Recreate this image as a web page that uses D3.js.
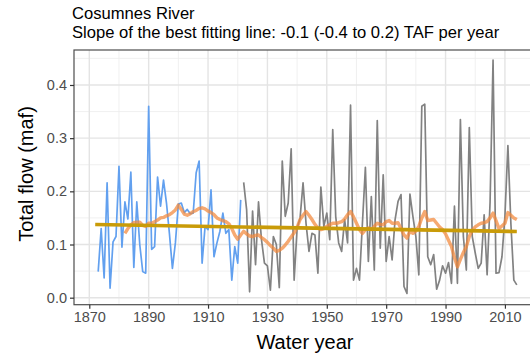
<!DOCTYPE html>
<html>
<head>
<meta charset="utf-8">
<script src="https://cdn.jsdelivr.net/npm/d3@7/dist/d3.min.js"></script>
<style>
  html, body { margin: 0; padding: 0; background: #fff; }
  svg { display: block; font-family: "Liberation Sans", Arial, sans-serif; }
</style>
</head>
<body>
<svg id="chart" width="530" height="355"></svg>
<script>
// Annual total flow (maf), Cosumnes River
const earlyYears = d3.range(1873, 1922);
const earlyFlow = [
  0.049, 0.130, 0.037, 0.216, 0.018, 0.105, 0.115, 0.247, 0.095, 0.180,
  0.148, 0.236, 0.057, 0.180, 0.100, 0.049, 0.046, 0.360, 0.091, 0.096,
  0.227, 0.172, 0.221, 0.178, 0.120, 0.055, 0.103, 0.176, 0.178, 0.160,
  0.166, 0.158, 0.159, 0.235, 0.257, 0.065, 0.134, 0.128, 0.203, 0.077,
  0.103, 0.125, 0.159, 0.121, 0.128, 0.033, 0.096, 0.065, 0.184
];
const gaugedYears = d3.range(1922, 2015);
const gaugedFlow = [
  0.217, 0.165, 0.011, 0.163, 0.062, 0.180, 0.109, 0.065, 0.060, 0.014,
  0.115, 0.100, 0.019, 0.257, 0.153, 0.178, 0.280, 0.033, 0.130, 0.150,
  0.216, 0.140, 0.087, 0.121, 0.118, 0.046, 0.208, 0.134, 0.159, 0.109,
  0.316, 0.153, 0.103, 0.087, 0.147, 0.103, 0.362, 0.033, 0.055, 0.033,
  0.140, 0.245, 0.068, 0.190, 0.052, 0.333, 0.093, 0.231, 0.068, 0.115,
  0.071, 0.147, 0.181, 0.194, 0.021, 0.008, 0.195, 0.153, 0.115, 0.043,
  0.360, 0.364, 0.077, 0.062, 0.081, 0.016, 0.033, 0.060, 0.046, 0.066,
  0.027, 0.172, 0.027, 0.335, 0.115, 0.052, 0.320, 0.115, 0.084, 0.055,
  0.065, 0.156, 0.043, 0.180, 0.447, 0.046, 0.047, 0.077, 0.153, 0.286,
  0.140, 0.033, 0.024
];
// Ten-year running mean
const meanYears = d3.range(1882, 2015);
const runningMean = [
  0.121, 0.130, 0.137, 0.141, 0.142, 0.142, 0.136, 0.134, 0.140, 0.140,
  0.143, 0.146, 0.150, 0.151, 0.154, 0.156, 0.160, 0.165, 0.174, 0.166,
  0.157, 0.155, 0.158, 0.162, 0.164, 0.168, 0.169, 0.167, 0.163, 0.160,
  0.156, 0.150, 0.147, 0.145, 0.143, 0.139, 0.130, 0.118, 0.110, 0.118,
  0.125, 0.120, 0.116, 0.115, 0.117, 0.118, 0.113, 0.109, 0.104, 0.098,
  0.093, 0.087, 0.089, 0.093, 0.099, 0.106, 0.114, 0.122, 0.132, 0.147,
  0.155, 0.162, 0.155, 0.147, 0.138, 0.131, 0.128, 0.130, 0.134, 0.137,
  0.140, 0.140, 0.141, 0.143, 0.148, 0.156, 0.162, 0.152, 0.140, 0.128,
  0.121, 0.128, 0.131, 0.128, 0.134, 0.140, 0.138, 0.137, 0.143, 0.145,
  0.140, 0.140, 0.141, 0.130, 0.118, 0.112, 0.125, 0.121, 0.125, 0.134,
  0.150, 0.162, 0.145, 0.146, 0.147, 0.140, 0.133, 0.128, 0.120, 0.108,
  0.096, 0.075, 0.058, 0.072, 0.085, 0.096, 0.115, 0.127, 0.133, 0.137,
  0.140, 0.141, 0.143, 0.150, 0.159, 0.145, 0.130, 0.135, 0.140, 0.160,
  0.155, 0.150, 0.147
];
// Best fitting line end points
const trendYears = [1872, 2014];
const trendFlow = [0.1375, 0.1245];

const xTicks = [1870, 1890, 1910, 1930, 1950, 1970, 1990, 2010];
const xMinor = [1880, 1900, 1920, 1940, 1960, 1980, 2000, 2020];
const yTicks = [0.0, 0.1, 0.2, 0.3, 0.4];
const yMinor = [0.05, 0.15, 0.25, 0.35, 0.45];

const titleLines = ["Cosumnes River", "Slope of the best fitting line: -0.1 (-0.4 to 0.2) TAF per year"];
const xTitle = "Water year";
const yTitle = "Total flow (maf)";

const svg = d3.select("#chart");
const panel = { left: 74, right: 541, top: 50, bottom: 304.7 };

const x = d3.scaleLinear().domain([1864.85, 2022.15]).range([panel.left, panel.right]);
const y = d3.scaleLinear().domain([-0.0132, 0.4658]).range([panel.bottom, panel.top]);

svg.append("defs").append("clipPath").attr("id", "panel-clip")
  .append("rect")
  .attr("x", panel.left).attr("y", panel.top)
  .attr("width", panel.right - panel.left).attr("height", panel.bottom - panel.top);

// Grid
const grid = svg.append("g").attr("clip-path", "url(#panel-clip)");
grid.selectAll(".xminor").data(xMinor).join("line")
  .attr("x1", d => x(d)).attr("x2", d => x(d))
  .attr("y1", panel.top).attr("y2", panel.bottom)
  .attr("stroke", "#ececec").attr("stroke-width", 0.8);
grid.selectAll(".yminor").data(yMinor).join("line")
  .attr("x1", panel.left).attr("x2", panel.right)
  .attr("y1", d => y(d)).attr("y2", d => y(d))
  .attr("stroke", "#ececec").attr("stroke-width", 0.8);
grid.selectAll(".xmajor").data(xTicks).join("line")
  .attr("x1", d => x(d)).attr("x2", d => x(d))
  .attr("y1", panel.top).attr("y2", panel.bottom)
  .attr("stroke", "#e4e4e4").attr("stroke-width", 1.4);
grid.selectAll(".ymajor").data(yTicks).join("line")
  .attr("x1", panel.left).attr("x2", panel.right)
  .attr("y1", d => y(d)).attr("y2", d => y(d))
  .attr("stroke", "#e4e4e4").attr("stroke-width", 1.4);

// Series
const plot = svg.append("g").attr("clip-path", "url(#panel-clip)");
const line = d3.line().x(d => x(d[0])).y(d => y(d[1]));

plot.append("path")
  .attr("d", line(d3.zip(earlyYears, earlyFlow)))
  .attr("fill", "none").attr("stroke", "#62a0ef").attr("stroke-width", 1.7)
  .attr("stroke-linejoin", "round");
plot.append("path")
  .attr("d", line(d3.zip(gaugedYears, gaugedFlow)))
  .attr("fill", "none").attr("stroke", "#828282").attr("stroke-width", 1.7)
  .attr("stroke-linejoin", "round");
plot.append("path")
  .attr("d", line(d3.zip(meanYears, runningMean)))
  .attr("fill", "none").attr("stroke", "#f2883a").attr("stroke-opacity", 0.72)
  .attr("stroke-width", 3.4).attr("stroke-linejoin", "round");
plot.append("path")
  .attr("d", line(d3.zip(trendYears, trendFlow)))
  .attr("fill", "none").attr("stroke", "#c99b08").attr("stroke-width", 3.6);

// Panel border
svg.append("rect")
  .attr("x", panel.left).attr("y", panel.top)
  .attr("width", panel.right - panel.left).attr("height", panel.bottom - panel.top)
  .attr("fill", "none").attr("stroke", "#4d4d4d").attr("stroke-width", 1.2);

// Axes
const xAxis = svg.append("g")
  .attr("transform", `translate(0,${panel.bottom})`)
  .call(d3.axisBottom(x).tickValues(xTicks).tickFormat(d3.format("d")).tickSize(4).tickPadding(3));
const yAxis = svg.append("g")
  .attr("transform", `translate(${panel.left},0)`)
  .call(d3.axisLeft(y).tickValues(yTicks).tickFormat(d3.format(".1f")).tickSize(4).tickPadding(3));
[xAxis, yAxis].forEach(g => {
  g.select(".domain").remove();
  g.selectAll(".tick line").attr("stroke", "#333333").attr("stroke-width", 1.2);
  g.selectAll(".tick text").attr("fill", "#4d4d4d")
    .style("font-size", "14.5px").style("font-family", "Liberation Sans, Arial, sans-serif");
});

// Titles
svg.append("text").attr("x", 72).attr("y", 19)
  .style("font-size", "16.6px").attr("fill", "#000").text(titleLines[0]);
svg.append("text").attr("x", 72).attr("y", 37.5)
  .style("font-size", "16.6px").attr("fill", "#000").text(titleLines[1]);

svg.append("text")
  .attr("x", 305).attr("y", 348.5).attr("text-anchor", "middle")
  .style("font-size", "20px").attr("fill", "#000").text(xTitle);
svg.append("text")
  .attr("transform", "translate(33,174) rotate(-90)")
  .attr("text-anchor", "middle")
  .style("font-size", "20px").attr("fill", "#000").text(yTitle);
</script>
</body>
</html>
